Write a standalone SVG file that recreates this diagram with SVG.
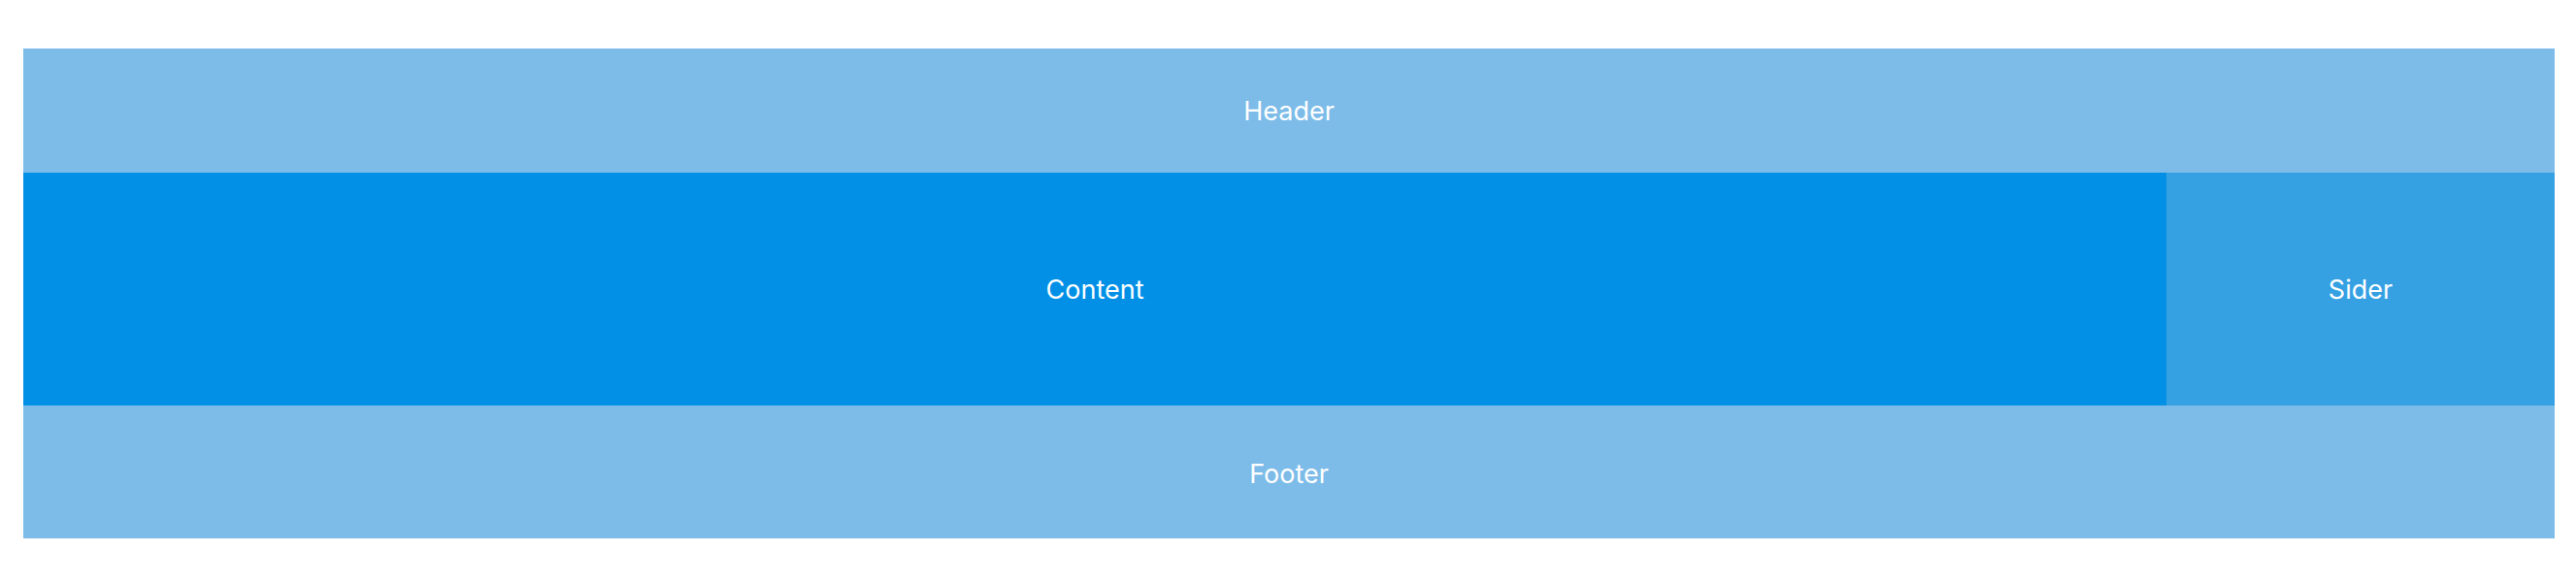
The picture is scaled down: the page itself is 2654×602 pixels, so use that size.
<svg xmlns="http://www.w3.org/2000/svg" width="2654" height="602" viewBox="0 0 2654 602">
<style>
.lbl{font-family:Inter,"Liberation Sans",sans-serif;font-size:27px;fill:#ffffff;text-anchor:middle}
</style>
<rect x="0" y="0" width="2654" height="602" fill="#ffffff"/>
<g id="header"><rect x="24" y="50" width="2608" height="128" fill="#7dbce8"/><text class="lbl" x="1328" y="124">Header</text></g>
<g id="content"><rect x="24" y="178" width="2208" height="240" fill="#0190e6"/><text class="lbl" x="1128" y="308">Content</text></g>
<g id="sider"><rect x="2232" y="178" width="400" height="240" fill="#35a1e3"/><text class="lbl" x="2432" y="308">Sider</text></g>
<g id="footer"><rect x="24" y="418" width="2608" height="137" fill="#7dbce8"/><text class="lbl" x="1328" y="498">Footer</text></g>
<g id="connectors"></g>
</svg>
